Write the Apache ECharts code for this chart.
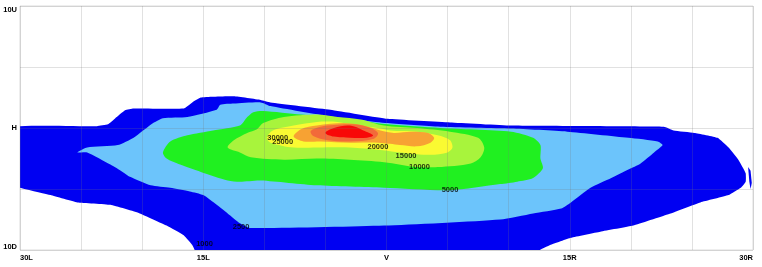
<!DOCTYPE html>
<html>
<head>
<meta charset="utf-8">
<script src="https://cdn.jsdelivr.net/npm/echarts@6/dist/echarts.min.js"></script>
<style>
html,body{margin:0;padding:0;background:#fff;}
#chart{width:762px;height:267px;}
</style>
</head>
<body>
<div id="chart"></div>
<script>
// Tick labels
var xTickValues = [-30, -15, 0, 15, 30];
var xTickLabels = ['30L', '15L', 'V', '15R', '30R'];
var yTickValues = [10, 0, -10];
var yTickLabels = ['10U', 'H', '10D'];

// Contour levels (cd) and their fill colours
var levels = [1000, 2500, 5000, 10000, 15000, 20000, 25000, 30000];
var levelColors = ['#0000f2', '#6cc4fb', '#20f020', '#a8f43c', '#fafa32', '#f7a233', '#f26a3a', '#f80808'];

// Contour outlines, in degrees [H (L negative), V (U positive)]
var iso1000 = [[-31,0],[-23.7,0.15],[-22.8,0.3],[-22.2,0.8],[-21.4,1.45],[-20.7,1.6],[-16.6,1.6],[-15.9,2.1],[-15.2,2.5],[-12.5,2.6],[-10.3,2.3],[-9.5,2.1],[-4.6,1.5],[0.1,0.75],[5.2,0.45],[10.2,0.2],[22.7,0.1],[23.5,-0.2],[25.2,-0.4],[27.1,-0.8],[28.0,-1.6],[28.8,-2.6],[29.4,-3.7],[29.4,-4.4],[29.0,-4.9],[28.0,-5.5],[25.7,-6.1],[23.0,-7.1],[20.2,-8.0],[17.5,-8.5],[15.1,-9.0],[13.4,-9.6],[11.8,-10.3],[-15.5,-10.3],[-15.9,-9.6],[-16.6,-8.8],[-18.0,-8.0],[-20.2,-7.0],[-22.6,-6.3],[-25.3,-6.1],[-27.5,-5.5],[-31,-4.5]];
var iso1000b = [[29.6,-3.2],[29.8,-3.5],[29.9,-4.5],[29.8,-5.0],[29.7,-4.4]];
var iso2500 = [[-25.3,-2.0],[-24.5,-1.6],[-22.0,-1.4],[-20.7,-0.8],[-19.1,0.4],[-18.3,0.8],[-16.3,0.9],[-13.9,1.5],[-13.6,1.9],[-12.5,2.0],[-10.3,2.1],[-9.5,1.8],[-4.6,0.95],[0.1,0.4],[4.4,0.1],[10.2,-0.05],[14.8,-0.3],[19.8,-0.8],[22.2,-1.1],[22.6,-1.4],[21.9,-2.0],[20.8,-2.9],[19.8,-3.4],[18.4,-4.1],[16.7,-4.9],[15.1,-6.1],[14.3,-6.6],[12.0,-7.0],[9.3,-7.5],[-0.2,-8.0],[-11.1,-8.2],[-12.0,-7.8],[-13.0,-7.0],[-13.9,-6.3],[-15.0,-5.5],[-16.1,-5.2],[-17.7,-4.9],[-19.3,-4.7],[-21.0,-4.0],[-21.6,-3.6],[-22.6,-3.0],[-24.5,-2.0]];
var iso5000 = [[-18.3,-2.0],[-17.7,-1.1],[-16.3,-0.6],[-14.2,-0.2],[-12.0,0.2],[-11.4,0.9],[-10.9,1.3],[-10.1,1.4],[-7.0,1.1],[-4.6,0.85],[-2.1,0.6],[0.1,0.3],[4.4,0.0],[10.2,-0.3],[12.0,-0.8],[12.6,-1.4],[12.6,-2.5],[12.8,-3.3],[12.0,-4.1],[10.7,-4.4],[9.3,-4.6],[5.2,-5.1],[-0.2,-4.9],[-5.7,-4.7],[-10.3,-4.3],[-12.0,-4.4],[-13.0,-4.3],[-15.2,-3.6],[-16.9,-3.0],[-18.0,-2.5]];
var iso10000 = [[-13.0,-1.6],[-12.5,-1.0],[-11.4,-0.4],[-10.6,-0.1],[-10.1,0.4],[-8.4,0.9],[-5.7,1.1],[-4.0,0.9],[-2.1,0.7],[-0.2,0.2],[2.5,0.0],[5.2,-0.3],[7.5,-0.8],[8.0,-1.6],[7.7,-2.4],[6.9,-2.9],[4.2,-3.2],[2.5,-3.2],[-0.2,-2.8],[-3.0,-2.6],[-5.7,-2.5],[-8.4,-2.6],[-11.1,-2.4],[-12.0,-2.0]];
var iso15000 = [[-9.8,-0.8],[-9.3,-0.2],[-7.6,0.2],[-5.7,0.5],[-4.0,0.5],[-2.4,0.2],[-0.7,0.0],[0.3,-0.2],[2.5,-0.3],[4.2,-0.6],[5.2,-1.0],[5.4,-1.6],[5.0,-2.0],[3.6,-2.2],[1.1,-2.0],[-0.5,-1.8],[-3.0,-1.6],[-5.7,-1.6],[-7.6,-1.6],[-9.5,-1.2]];
var iso20000 = [[-7.6,-0.7],[-7.0,-0.1],[-5.7,0.2],[-3.5,0.4],[-1.9,0.2],[-0.5,-0.2],[0.6,-0.4],[2.0,-0.3],[3.4,-0.4],[3.9,-0.8],[3.6,-1.2],[2.5,-1.5],[1.1,-1.4],[0.3,-1.3],[-0.7,-1.2],[-3.0,-1.2],[-5.4,-1.1],[-6.8,-1.1]];
var iso25000 = [[-6.2,-0.25],[-5.4,0.1],[-4.3,0.25],[-2.7,0.3],[-1.6,0.1],[-0.7,-0.4],[-1.1,-0.9],[-3.0,-1.1],[-4.8,-1.0],[-6.0,-0.65]];
var iso30000 = [[-5.0,-0.4],[-4.3,0.0],[-3.0,0.2],[-1.9,-0.2],[-1.1,-0.6],[-1.6,-0.8],[-3.0,-0.8],[-4.3,-0.7]];

// Contour value labels
var labelTexts = ['30000', '25000', '20000', '15000', '10000', '5000', '2500', '1000'];
var labelPos = [[-8.9,-0.8],[-8.5,-1.15],[-0.7,-1.55],[1.6,-2.3],[2.7,-3.2],[5.2,-5.1],[-11.9,-8.1],[-14.9,-9.5]];

var polys = [
  {pts: iso1000, c: 0, smooth: 0.12},
  {pts: iso1000b, c: 0, smooth: 0},
  {pts: iso2500, c: 1, smooth: 0.2},
  {pts: iso5000, c: 2, smooth: 0.25},
  {pts: iso10000, c: 3, smooth: 0.3},
  {pts: iso15000, c: 4, smooth: 0.3},
  {pts: iso20000, c: 5, smooth: 0.3},
  {pts: iso25000, c: 6, smooth: 0.35},
  {pts: iso30000, c: 7, smooth: 0.35}
];

var series = polys.map(function (p) {
  return {
    type: 'custom',
    coordinateSystem: 'cartesian2d',
    clip: true,
    silent: true,
    data: p.pts,
    renderItem: function (params, api) {
      if (params.dataIndex !== 0) return null;
      var pts = p.pts.map(function (v) { return api.coord(v); });
      return {
        type: 'polygon',
        shape: {points: pts, smooth: p.smooth},
        style: {fill: levelColors[p.c], stroke: null}
      };
    }
  };
});

series.push({
  type: 'scatter',
  symbolSize: 0,
  silent: true,
  z: 10,
  data: labelPos.map(function (p, i) { return {value: p, name: labelTexts[i]}; }),
  label: {
    show: true,
    position: 'inside',
    formatter: function (pp) { return pp.name; },
    color: '#000',
    fontFamily: 'Liberation Sans, Arial, sans-serif',
    fontSize: 7.5,
    fontWeight: 'bold'
  }
});

var chart = echarts.init(document.getElementById('chart'), null, {renderer: 'canvas'});
chart.setOption({
  animation: false,
  backgroundColor: '#fff',
  grid: {left: 20, right: 9, top: 6, bottom: 17, containLabel: false, outerBoundsMode: 'none',
         show: true, borderColor: '#dcdcdc', borderWidth: 1, backgroundColor: 'transparent'},
  xAxis: {
    type: 'value', min: -30, max: 30, interval: 5, z: 5,
    axisLine: {show: false}, axisTick: {show: false},
    splitLine: {show: true, lineStyle: {color: 'rgba(120,120,120,0.22)', width: 1}},
    axisLabel: {
      interval: 0, margin: 4, color: '#000', fontSize: 7.5, fontWeight: 'bold',
      fontFamily: 'Liberation Sans, Arial, sans-serif',
      alignMinLabel: 'left', alignMaxLabel: 'right',
      formatter: function (v) {
        var i = xTickValues.indexOf(v);
        return i >= 0 ? xTickLabels[i] : '';
      }
    }
  },
  yAxis: {
    type: 'value', min: -10, max: 10, interval: 5, z: 5,
    axisLine: {show: false}, axisTick: {show: false},
    splitLine: {show: true, lineStyle: {color: 'rgba(120,120,120,0.22)', width: 1}},
    axisLabel: {
      interval: 0, margin: 3, color: '#000', fontSize: 7.5, fontWeight: 'bold',
      fontFamily: 'Liberation Sans, Arial, sans-serif',
      formatter: function (v) {
        var i = yTickValues.indexOf(v);
        if (i < 0) return '';
        if (i === 0) return '{t|' + yTickLabels[i] + '}';
        if (i === 2) return '{b|' + yTickLabels[i] + '}';
        return yTickLabels[i];
      },
      rich: {
        t: {padding: [8, 0, 0, 0], fontSize: 7.5, fontWeight: 'bold', color: '#000', fontFamily: 'Liberation Sans, Arial, sans-serif'},
        b: {padding: [0, 0, 6, 0], fontSize: 7.5, fontWeight: 'bold', color: '#000', fontFamily: 'Liberation Sans, Arial, sans-serif'}
      }
    }
  },
  series: series
});
</script>
</body>
</html>
